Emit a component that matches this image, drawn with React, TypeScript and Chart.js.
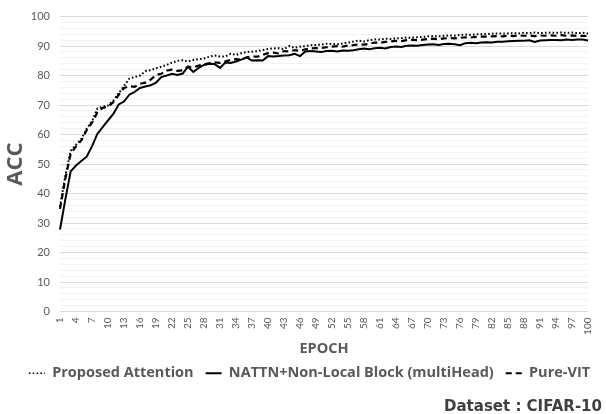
import React, { useEffect, useRef } from "react";
import { Chart, registerables } from "chart.js";

Chart.register(...registerables);

const epochs: string[] = Array.from({ length: 100 }, (_, i) => String(i + 1));

const proposedAttention: number[] = [
  35.5, 46, 54.5, 56.5, 58.5, 62, 64.5, 68.8, 69.5, 69.8,
  71.5, 74, 76.5, 79, 79.5, 80, 81.5, 81.8, 82.5, 83,
  83.6, 84.4, 85, 85.2, 84.8, 85.3, 85.6, 85.8, 86.4, 86.8,
  86.5, 86.5, 87.4, 87, 87.6, 88, 88.1, 88.3, 88.7, 89,
  89.2, 89.3, 89, 90, 89.4, 89.8, 90, 90.3, 90.4, 90.5,
  90.8, 90.7, 90.6, 90.9, 91.2, 91.5, 91.9, 91.6, 92, 92.3,
  92.2, 92.5, 92.4, 92.6, 92.7, 92.9, 92.8, 93, 93.1, 93.3,
  93.4, 93.3, 93.5, 93.6, 93.5, 93.8, 93.9, 93.8, 94, 94,
  94.1, 94.2, 94.3, 94.2, 94.3, 94.4, 94.3, 94.5, 94.4, 94.6,
  94.4, 94.5, 94.6, 94.5, 94.6, 94.5, 94.6, 94.4, 94.5, 94.3,
];

const nattnNonLocal: number[] = [
  27.8, 38, 47.5, 49.5, 51, 52.5, 56, 60.2, 62.5, 64.8,
  67, 70.2, 71.2, 73.5, 74.5, 75.8, 76.3, 76.7, 77.6, 79.5,
  80, 80.6, 80.2, 80.7, 83, 81.2, 82.6, 83.6, 84, 83.9,
  82.6, 84.4, 84.3, 84.8, 85.4, 86.1, 85.1, 85.2, 85.1, 86.6,
  86.5, 86.6, 86.8, 86.9, 87.4, 86.6, 88.2, 88.3, 88.2, 88,
  88.3, 88.4, 88.2, 88.5, 88.4, 88.6, 88.9, 89.2, 88.9, 89.3,
  89.4, 89.2, 89.7, 89.9, 89.7, 90.1, 90.2, 90.1, 90.4, 90.5,
  90.6, 90.4, 90.7, 90.8, 90.6, 90.3, 91, 91.1, 91, 91.2,
  91.3, 91.2, 91.5, 91.5, 91.6, 91.7, 91.8, 91.8, 92, 91.4,
  91.9, 92, 92.1, 92.1, 92, 92.2, 92.1, 92.2, 92.2, 91.9,
];

const pureVit: number[] = [
  34.8, 45, 53.5, 56, 58, 61.5, 64, 67.5, 69, 69.5,
  71, 73.5, 75.8, 76.4, 76.2, 77.2, 77.6, 78.6, 80.2, 80.6,
  81.7, 82, 81.6, 81.8, 83, 82.8, 83.4, 83.8, 84.2, 84.5,
  84.3, 84.8, 85.3, 85.6, 85.4, 86.2, 86.5, 86.4, 87, 87.6,
  87.8, 87.5, 88.3, 88.2, 88.6, 88.4, 88.9, 89.2, 89.3, 89.4,
  89.6, 89.8, 90, 89.8, 90.2, 90.3, 90.6, 90.5, 90.8, 91.2,
  91.1, 91.4, 91.6, 91.8, 91.7, 92, 92.1, 92, 92.2, 92.4,
  92.5, 92.3, 92.6, 92.7, 92.6, 92.8, 93, 92.9, 93.1, 93.2,
  93.2, 93.3, 93.4, 93.3, 93.5, 93.4, 93.6, 93.5, 93.6, 93.4,
  93.6, 93.5, 93.6, 93.5, 93.7, 93.5, 93.6, 93.4, 93.5, 93.4,
];

const seriesNames = ["Proposed Attention", "NATTN+Non-Local Block (multiHead)", "Pure-VIT"];
const seriesDashes: number[][] = [[1.6, 2.2], [], [6, 4]];
const yMin = 0;
const yMax = 100;
const yMinorStep = 2;
const yLabelStep = 10;
const xLabelEvery = 3;

export default function App() {
  const canvasRef = useRef<HTMLCanvasElement | null>(null);

  useEffect(() => {
    const canvas = canvasRef.current;
    if (!canvas) return;
    const gray = "#595959";
    const chart = new Chart(canvas, {
      type: "line",
      data: {
        labels: epochs,
        datasets: [
          {
            label: seriesNames[0],
            data: proposedAttention,
            borderColor: "#000000",
            backgroundColor: "#000000",
            borderWidth: 2,
            borderDash: seriesDashes[0],
            pointRadius: 0,
            pointStyle: "line",
            tension: 0,
            yAxisID: "y",
          },
          {
            label: seriesNames[1],
            data: nattnNonLocal,
            borderColor: "#000000",
            backgroundColor: "#000000",
            borderWidth: 2,
            borderDash: seriesDashes[1],
            pointRadius: 0,
            pointStyle: "line",
            tension: 0,
            yAxisID: "y",
          },
          {
            label: seriesNames[2],
            data: pureVit,
            borderColor: "#000000",
            backgroundColor: "#000000",
            borderWidth: 2.2,
            borderDash: seriesDashes[2],
            pointRadius: 0,
            pointStyle: "line",
            tension: 0,
            yAxisID: "y",
          },
        ],
      },
      options: {
        responsive: false,
        animation: false,
        layout: { padding: { left: 13, right: 0, top: 12, bottom: 23.5 } },
        plugins: {
          legend: {
            position: "bottom",
            labels: {
              usePointStyle: true,
              pointStyle: "line",
              pointStyleWidth: 16,
              boxWidth: 16,
              boxHeight: 4,
              padding: 12,
              color: gray,
              font: { family: "'Open Sans'", size: 14.5, weight: "bold" },
              generateLabels: (ch: any) => {
                const items = Chart.defaults.plugins.legend.labels.generateLabels(ch);
                return items.map((it: any, i: number) => ({
                  ...it,
                  lineDash: seriesDashes[i] || [],
                  lineWidth: i === 0 ? 1.5 : 2,
                  strokeStyle: "#000000",
                }));
              },
            },
          },
          tooltip: { enabled: false },
        },
        scales: {
          x: {
            offset: false,
            grid: { display: false, drawTicks: false },
            border: { display: false },
            ticks: {
              autoSkip: false,
              minRotation: 90,
              maxRotation: 90,
              padding: 6,
              color: gray,
              font: { family: "Lato", size: 10 },
              callback: (_v: any, idx: number) => (idx % xLabelEvery === 0 ? epochs[idx] : ""),
            },
            title: {
              display: true,
              text: "EPOCH",
              color: gray,
              font: { family: "'Open Sans'", size: 14.5, weight: "bold" },
              padding: { top: 0, bottom: -4 },
            },
            afterFit: (scale: any) => {
              scale.height = 42.5;
            },
          },
          y: {
            min: yMin,
            max: yMax,
            border: { display: false },
            grid: {
              drawTicks: false,
              color: (ctx: any) =>
                ctx.tick && ctx.tick.value % yLabelStep === 0 ? "#d9d9d9" : "#f2f2f2",
              lineWidth: 1,
            },
            ticks: {
              stepSize: yMinorStep,
              maxTicksLimit: 100,
              autoSkip: false,
              padding: 10,
              color: gray,
              font: { family: "Lato", size: 11 },
              callback: (v: any) => (Number(v) % yLabelStep === 0 ? String(v) : ""),
            },
            title: {
              display: true,
              text: "ACC",
              color: gray,
              font: { family: "'Open Sans'", size: 22, weight: "bold" },
              padding: { top: -10, bottom: 0 },
            },
            afterFit: (scale: any) => {
              scale.width = 47;
            },
          },
          yRight: {
            position: "right",
            display: true,
            min: yMin,
            max: yMax,
            grid: { display: false, drawTicks: false },
            border: { display: false },
            ticks: { display: false },
            afterFit: (scale: any) => {
              scale.width = 13;
            },
          },
        },
      },
    });
    return () => chart.destroy();
  }, []);

  return (
    <div style={{ position: "fixed", left: 0, top: 0, width: 606, height: 414, background: "#ffffff" }}>
      <canvas ref={canvasRef} width={606} height={414} style={{ display: "block" }} />
      <div
        style={{
          position: "absolute",
          right: 4,
          top: 399,
          fontFamily: "'DejaVu Sans', sans-serif",
          fontWeight: "bold",
          fontSize: 15,
          lineHeight: "15px",
          color: "#404040",
          whiteSpace: "nowrap",
        }}
      >
        Dataset : CIFAR-10
      </div>
    </div>
  );
}
